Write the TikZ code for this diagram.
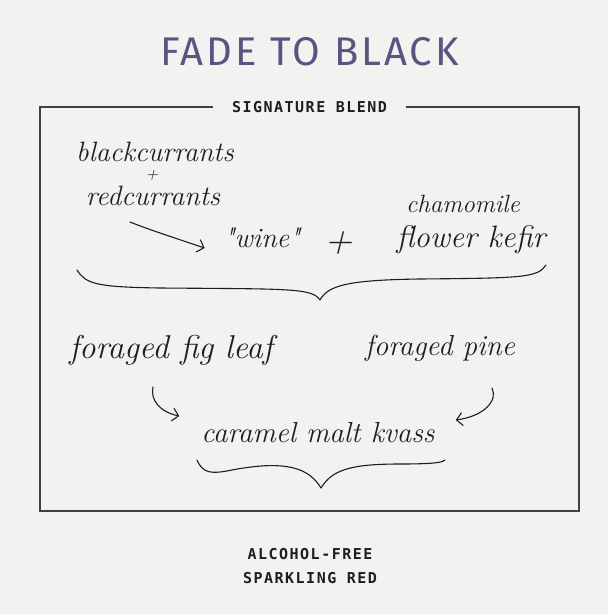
\documentclass[tikz,border=0pt]{standalone}
\usepackage{fontspec}
\usetikzlibrary{arrows.meta}
\newfontfamily\titlefont[LetterSpace=7.5]{Fira Sans}
\newfontfamily\capsfont[LetterSpace=10]{DejaVu Sans Mono}
\definecolor{paper}{HTML}{F2F2F0}
\definecolor{plum}{HTML}{5B5381}
\definecolor{ink}{HTML}{1E1E1E}
\begin{document}
\begin{tikzpicture}[
	x=1pt, y=-1pt,
	hand/.style={text=ink, anchor=base, inner sep=0pt, font=\fontsize{#1}{#1}\selectfont\itshape},
	stroke/.style={draw=ink, line width=1.1pt, line cap=round, line join=round},
	arr/.style={stroke, -{Straight Barb[length=6pt,width=13pt]}},
	caps/.style={text=ink, font=\fontsize{15}{24}\selectfont\capsfont\bfseries}
	]
	
	\useasboundingbox[fill=paper] (0,0) rectangle (608,614);
	
	\node[text=plum, font=\fontsize{40}{40}\selectfont\titlefont] (title) at (309.5,52) {FADE TO BLACK};
	\node[caps, inner xsep=19pt] (blend) at (309.5,107) {SIGNATURE BLEND};
	\draw[draw=ink!85, line width=1.2pt] (blend.west) -| (40,511) -| (579,107) -- (blend.east);
	
	\node[hand=28] (black) at (155,161) {blackcurrants};
	\node[hand=17] (plusA) at (152,179.5) {+};
	\node[hand=28] (red) at (153,205) {redcurrants};
	\node[hand=28] (wine) at (262,247) {\textquotedbl wine\textquotedbl};
	\node[hand=38] (plusB) at (339,252.5) {+};
	\node[hand=25] (chamo) at (463,212) {chamomile};
	\node[hand=31] (kefir) at (471,247) {flower kefir};
	\node[hand=33] (fig) at (171,358) {foraged fig leaf};
	\node[hand=29] (pine) at (440,355) {foraged pine};
	\node[hand=29] (kvass) at (318,442) {caramel malt kvass};
	\node[caps, align=center] (note) at (310,566) {ALCOHOL-FREE\\SPARKLING RED};
	
	\coordinate (redOut) at (130,222);
	\coordinate (figOut) at (153,387);
	\coordinate (pineOut) at (492,388);
	\draw[arr] (redOut) .. controls (150,230) and (175,238) .. ([xshift=-19pt,yshift=-1pt]wine.base west);
	\draw[arr] (figOut) .. controls (150,400) and (160,412) .. ([xshift=-22pt,yshift=26pt]kvass.base west);
	\draw[arr] (pineOut) .. controls (498,400) and (485,416) .. ([xshift=21pt,yshift=22pt]kvass.base east);
	
	\draw[stroke] (77,270) .. controls (86,284) and (96,287) .. (160,288)
		.. controls (290,289) and (312,288) .. (320,300)
		.. controls (328,286) and (345,280) .. (420,279)
		.. controls (520,278) and (538,278) .. (546,265);
	\draw[stroke] (197,460) .. controls (203,474) and (212,474) .. (232,470)
		.. controls (290,459) and (310,470) .. (321,488)
		.. controls (332,470) and (350,464) .. (400,464)
		.. controls (438,464) and (443,462) .. (445,460);
\end{tikzpicture}
\end{document}
